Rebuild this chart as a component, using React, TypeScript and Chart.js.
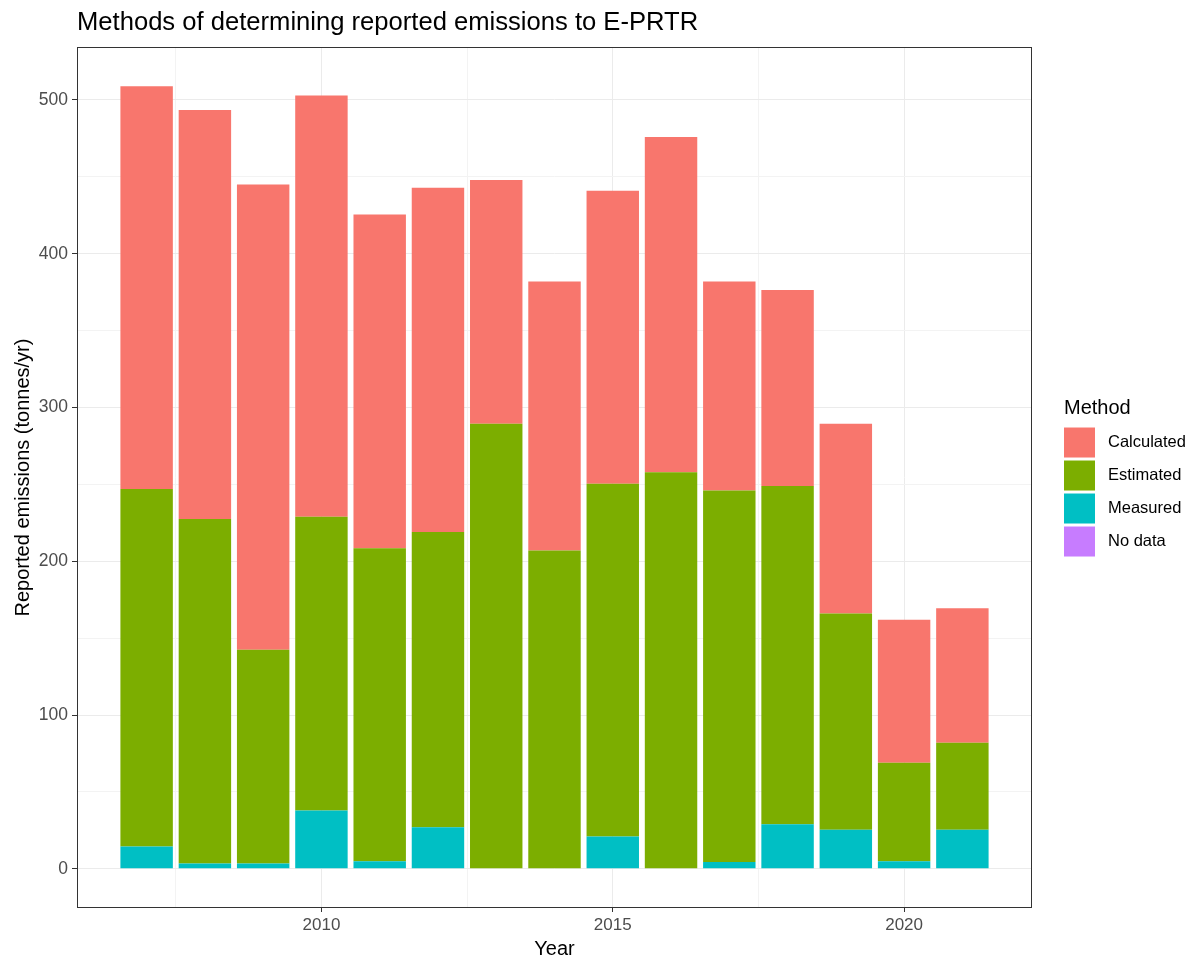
import React, { useEffect, useRef } from 'react';
import { Chart, registerables } from 'chart.js';

Chart.register(...registerables);

const years = [2007, 2008, 2009, 2010, 2011, 2012, 2013, 2014, 2015, 2016, 2017, 2018, 2019, 2020, 2021];
const measured = [14.5, 3.5, 3.5, 38, 5, 27, 0, 0, 21, 0, 4.5, 29, 25.5, 5, 25.5];
const estimated = [232.5, 224, 139, 191, 203.5, 192, 289.5, 207, 229.5, 258, 241.5, 220, 140.5, 64, 56.5];
const calculated = [262, 266, 302.5, 274, 217, 224, 158.5, 175, 190.5, 218, 136, 127.5, 123.5, 93, 87.5];
const noData = [0, 0, 0, 0, 0, 0, 0, 0, 0, 0, 0, 0, 0, 0, 0];

const xTicks = [2007.5, 2010, 2012.5, 2015, 2017.5, 2020];
const xMajor = [2010, 2015, 2020];
const yTicks = [0, 50, 100, 150, 200, 250, 300, 350, 400, 450, 500];
const yMajor = [0, 100, 200, 300, 400, 500];

const methods = ['Calculated', 'Estimated', 'Measured', 'No data'];
const colors: Record<string, string> = {
  Calculated: '#F8766D',
  Estimated: '#7CAE00',
  Measured: '#00BFC4',
  'No data': '#C77CFF',
};

const FONT = "'Liberation Sans', Arial, Helvetica, sans-serif";

const panelPlugin = {
  id: 'panelBorderAndLegend',
  afterDraw(chart: any) {
    const { ctx, chartArea } = chart;
    const { left, right, top, bottom } = chartArea;
    ctx.save();
    ctx.strokeStyle = '#333333';
    ctx.lineWidth = 1;
    ctx.strokeRect(Math.round(left) + 0.5, Math.round(top) + 0.5, Math.round(right - left) - 1, Math.round(bottom - top) - 1);

    // legend (ggplot style)
    const cy = (top + bottom) / 2;
    const lx = right + 32;
    ctx.fillStyle = '#000000';
    ctx.font = `20px ${FONT}`;
    ctx.textBaseline = 'middle';
    ctx.textAlign = 'left';
    ctx.fillText('Method', lx, cy - 69);
    methods.forEach((m, i) => {
      const ky = cy - 50 + i * 33;
      ctx.fillStyle = colors[m];
      ctx.fillRect(lx, ky, 31, 30);
      ctx.fillStyle = '#000000';
      ctx.font = `16.5px ${FONT}`;
      ctx.fillText(m, lx + 44, ky + 15);
    });
    ctx.restore();
  },
};

export default function App() {
  const canvasRef = useRef<HTMLCanvasElement | null>(null);

  useEffect(() => {
    if (!canvasRef.current) return;
    const mk = (arr: number[]) => years.map((y, i) => ({ x: y, y: arr[i] }));
    const chart = new Chart(canvasRef.current, {
      type: 'bar',
      data: {
        datasets: [
          { label: 'Measured', data: mk(measured), backgroundColor: colors['Measured'], borderWidth: 0 },
          { label: 'Estimated', data: mk(estimated), backgroundColor: colors['Estimated'], borderWidth: 0 },
          { label: 'Calculated', data: mk(calculated), backgroundColor: colors['Calculated'], borderWidth: 0 },
          { label: 'No data', data: mk(noData), backgroundColor: colors['No data'], borderWidth: 0 },
        ],
      },
      options: {
        animation: false,
        responsive: true,
        maintainAspectRatio: false,
        datasets: { bar: { barPercentage: 0.9, categoryPercentage: 1.0 } },
        layout: { padding: { left: 0, right: 169, top: 0, bottom: 0 } },
        plugins: {
          legend: { display: false },
          tooltip: { enabled: false },
          title: {
            display: true,
            text: 'Methods of determining reported emissions to E-PRTR',
            align: 'start',
            fullSize: false,
            color: '#000000',
            font: { size: 25.6, family: FONT, weight: 'normal', lineHeight: 1.2 },
            padding: { top: 7.5, bottom: 8.8 },
          },
        },
        scales: {
          x: {
            type: 'linear',
            stacked: true,
            offset: false,
            min: 2005.805,
            max: 2022.195,
            afterBuildTicks: (s: any) => {
              s.ticks = xTicks.map((v) => ({ value: v }));
            },
            afterFit: (s: any) => {
              s.height = 55;
            },
            grid: {
              offset: false,
              color: (c: any) => (c.tick && xMajor.includes(c.tick.value) ? '#EBEBEB' : '#F3F3F3'),
              tickColor: (c: any) => (c.tick && xMajor.includes(c.tick.value) ? '#333333' : 'rgba(0,0,0,0)'),
              tickLength: 4,
              lineWidth: 1,
            },
            border: { display: false },
            ticks: {
              autoSkip: false,
              maxRotation: 0,
              padding: 3,
              color: '#4D4D4D',
              font: { size: 17, family: FONT },
              callback: (v: any) => (xMajor.includes(Number(v)) ? String(v) : ''),
            },
            title: {
              display: true,
              text: 'Year',
              color: '#000000',
              font: { size: 20, family: FONT },
              padding: { top: 0, bottom: 2 },
            },
          },
          y: {
            type: 'linear',
            stacked: true,
            min: -25.45,
            max: 534.45,
            afterBuildTicks: (s: any) => {
              s.ticks = yTicks.map((v) => ({ value: v }));
            },
            afterFit: (s: any) => {
              s.width = 77;
            },
            grid: {
              color: (c: any) => (c.tick && yMajor.includes(c.tick.value) ? '#EBEBEB' : '#F3F3F3'),
              tickColor: (c: any) => (c.tick && yMajor.includes(c.tick.value) ? '#333333' : 'rgba(0,0,0,0)'),
              tickLength: 5,
              lineWidth: 1,
            },
            border: { display: false },
            ticks: {
              autoSkip: false,
              padding: 4,
              color: '#4D4D4D',
              font: { size: 17.5, family: FONT },
              callback: (v: any) => (yMajor.includes(Number(v)) ? String(v) : ''),
            },
            title: {
              display: true,
              text: 'Reported emissions (tonnes/yr)',
              color: '#000000',
              font: { size: 20, family: FONT },
              padding: { top: 11, bottom: 0 },
            },
          },
        },
      },
      plugins: [panelPlugin],
    } as any);
    return () => chart.destroy();
  }, []);

  return (
    <div style={{ position: 'absolute', left: 0, top: 0, width: 1201, height: 963, background: '#ffffff' }}>
      <canvas ref={canvasRef} />
    </div>
  );
}
